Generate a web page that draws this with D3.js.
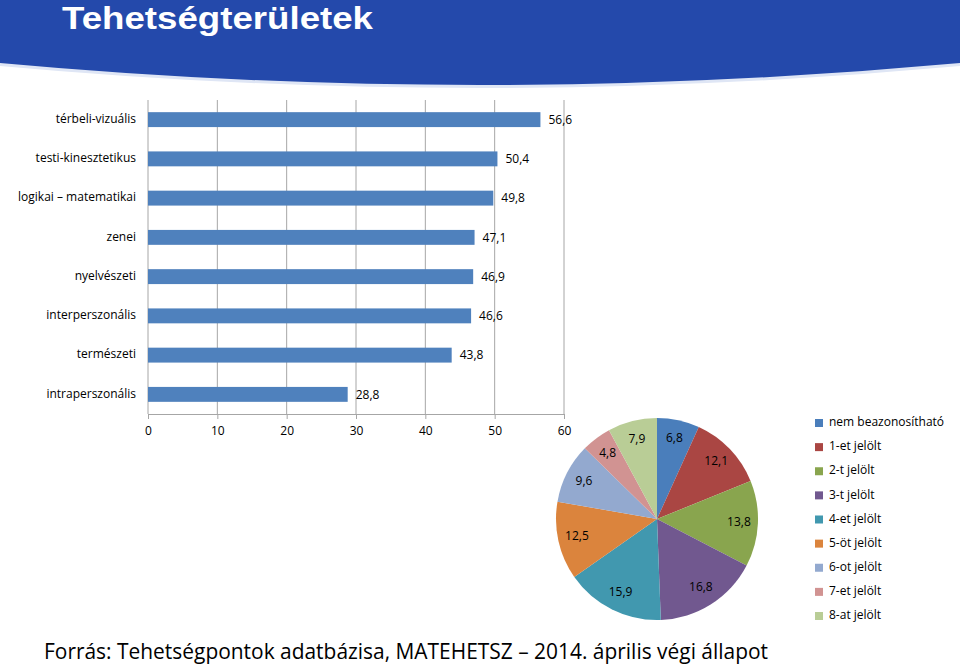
<!DOCTYPE html>
<html><head><meta charset="utf-8">
<script src="https://cdn.jsdelivr.net/npm/d3@7"></script>
<style>body{margin:0;background:#fff}svg{display:block}text{font-family:"Open Sans","Noto Sans",sans-serif;fill:#000}</style>
</head><body><svg id="c" width="960" height="666"></svg>
<script>
const title = "Tehetségterületek";
const barCategories = ["térbeli-vizuális","testi-kinesztetikus","logikai – matematikai","zenei","nyelvészeti","interperszonális","természeti","intraperszonális"];
const barValues = [56.6,50.4,49.8,47.1,46.9,46.6,43.8,28.8];
const xTicks = [0,10,20,30,40,50,60];
const pieCategories = ["nem beazonosítható","1-et jelölt","2-t jelölt","3-t jelölt","4-et jelölt","5-öt jelölt","6-ot jelölt","7-et jelölt","8-at jelölt"];
const pieValues = [6.8,12.1,13.8,16.8,15.9,12.5,9.6,4.8,7.9];
const pieColors = ["#4A7EBB","#AA4643","#89A54E","#71588F","#4198AF","#DB843D","#93A9CF","#D19392","#B9CD96"];
const footer = "Forrás: Tehetségpontok adatbázisa, MATEHETSZ – 2014. április végi állapot";

const svg = d3.select("#c");
const fmt = v => d3.format(".1f")(v).replace(".", ",");
const FS = "12px";

// title band
svg.append("path").attr("d","M0,0H960V66Q480,110 0,66Z").attr("fill","#dfe6f5");
svg.append("path").attr("d","M0,0H960V63Q480,107 0,63Z").attr("fill","#2449AB");
svg.append("text").attr("x",62).attr("y",29).attr("textLength",311).attr("lengthAdjust","spacingAndGlyphs")
  .style("font-family","'Liberation Sans',Arial,sans-serif").style("font-weight","bold").style("font-size","32px")
  .style("fill","#fff").text(title);

// bar chart
const x = d3.scaleLinear().domain([0,60]).range([148,564]);
const y = d3.scaleBand().domain(barCategories).range([100,414]).paddingInner(0.62).paddingOuter(0.31);
const g = svg.append("g");
g.selectAll("line.grid").data(xTicks.slice(1)).join("line")
  .attr("x1",d=>x(d)).attr("x2",d=>x(d)).attr("y1",100).attr("y2",414)
  .attr("stroke","#a6a6a6").attr("stroke-width",1);
g.append("line").attr("x1",x(0)).attr("x2",x(0)).attr("y1",100).attr("y2",414).attr("stroke","#a6a6a6");
const xAxis = d3.axisBottom(x).tickValues(xTicks).tickSize(5).tickPadding(7).tickFormat(d=>d);
const ax = g.append("g").attr("transform","translate(0,414)").call(xAxis);
ax.select(".domain").attr("stroke","#a6a6a6");
ax.selectAll(".tick line").attr("stroke","#a6a6a6");
ax.selectAll(".tick text").style("font-size",FS).style("font-family","'Open Sans',sans-serif").attr("fill","#000");
g.selectAll("rect.bar").data(barValues).join("rect")
  .attr("x",x(0)).attr("y",(d,i)=>y(barCategories[i])).attr("width",d=>x(d)-x(0)).attr("height",y.bandwidth())
  .attr("fill","#4F81BD");
g.selectAll("text.val").data(barValues).join("text")
  .attr("x",d=>x(d)+8).attr("y",(d,i)=>y(barCategories[i])+y.bandwidth()/2+1).attr("dominant-baseline","middle")
  .style("font-size",FS).text(d=>fmt(d));
g.selectAll("text.cat").data(barCategories).join("text")
  .attr("x",136).attr("y",d=>y(d)+y.bandwidth()/2).attr("dominant-baseline","middle").attr("text-anchor","end")
  .style("font-size",FS).text(d=>d);

// pie
const cx=657, cy=519, r=101;
const pie = d3.pie().sort(null).value(d=>d);
const arcs = pie(pieValues);
const arc = d3.arc().innerRadius(0).outerRadius(r);
const labelArc = d3.arc().innerRadius(82).outerRadius(82);
const pg = svg.append("g").attr("transform",`translate(${cx},${cy})`);
pg.selectAll("path").data(arcs).join("path").attr("d",arc).attr("fill",(d,i)=>pieColors[i]);
pg.selectAll("text").data(arcs).join("text")
  .attr("transform",d=>`translate(${labelArc.centroid(d)})`).attr("text-anchor","middle").attr("dominant-baseline","middle")
  .style("font-size",FS).text(d=>fmt(d.data));

// legend
const lg = svg.append("g");
const ly = d3.scaleLinear().domain([0,8]).range([423,616]);
pieCategories.forEach((c,i)=>{
  lg.append("rect").attr("x",815).attr("y",ly(i)-4).attr("width",8).attr("height",8).attr("fill",pieColors[i]);
  lg.append("text").attr("x",829).attr("y",ly(i)).attr("dominant-baseline","middle").style("font-size",FS).text(c);
});

// footer
svg.append("text").attr("x",44).attr("y",659).attr("textLength",724).attr("lengthAdjust","spacingAndGlyphs")
  .style("font-size","21px").text(footer);
</script></body></html>
